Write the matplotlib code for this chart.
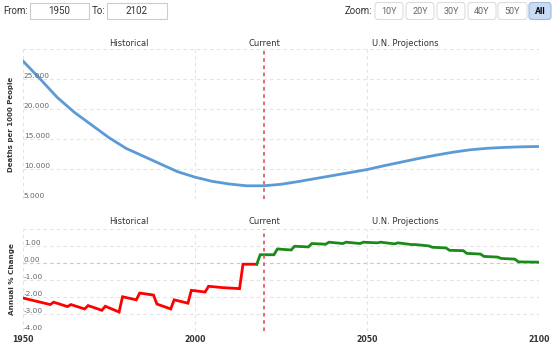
import matplotlib
matplotlib.use("Agg")
import matplotlib.pyplot as plt
from matplotlib.patches import FancyBboxPatch
from matplotlib.transforms import Affine2D, offset_copy

W, H = 553, 347

# death rate, deaths per 1000 people (historical + UN projections)
rate_years = [1950, 1955, 1960, 1965, 1970, 1975, 1980, 1985, 1990, 1995, 2000,
              2005, 2010, 2015, 2020, 2025, 2030, 2035, 2040, 2045, 2050, 2055,
              2060, 2065, 2070, 2075, 2080, 2085, 2090, 2095, 2100]
rate_values = [28.1, 25.1, 22.0, 19.5, 17.4, 15.3, 13.5, 12.2, 10.9, 9.6, 8.7,
               8.0, 7.55, 7.25, 7.25, 7.5, 7.95, 8.45, 8.95, 9.45, 9.95, 10.6,
               11.2, 11.8, 12.35, 12.85, 13.25, 13.5, 13.65, 13.75, 13.8]

# annual % change, historical part
hist_years = [1950, 1958, 1959, 1963, 1964, 1968, 1969, 1973, 1974, 1978, 1979,
              1983, 1984, 1988, 1989, 1993, 1994, 1998, 1999, 2003, 2004, 2008,
              2013, 2014, 2018]
hist_change = [-2.05, -2.44, -2.30, -2.56, -2.44, -2.70, -2.50, -2.78, -2.54,
               -2.88, -1.98, -2.16, -1.76, -1.88, -2.41, -2.70, -2.16, -2.36,
               -1.60, -1.70, -1.36, -1.44, -1.50, -0.06, -0.06]

# annual % change, projected part
proj_years = [2018, 2019, 2023, 2024, 2028, 2029, 2033, 2034, 2038, 2039, 2043,
              2044, 2048, 2049, 2053, 2054, 2058, 2059, 2063, 2064, 2068, 2069,
              2073, 2074, 2078, 2079, 2083, 2084, 2088, 2089, 2093, 2094, 2100]
proj_change = [-0.06, 0.50, 0.50, 0.84, 0.78, 1.00, 0.96, 1.16, 1.12, 1.24, 1.16,
               1.24, 1.16, 1.24, 1.20, 1.24, 1.14, 1.20, 1.10, 1.10, 1.02, 0.94,
               0.90, 0.76, 0.74, 0.58, 0.54, 0.40, 0.36, 0.28, 0.24, 0.08, 0.06]

current_year = 2020
x_ticks = [1950, 2000, 2050, 2100]
rate_ticks = [5, 10, 15, 20, 25, 30]
change_ticks = [-4, -3, -2, -1, 0, 1, 2]
zoom_buttons = ["10Y", "20Y", "30Y", "40Y", "50Y", "All"]

GRID = "#e3e3e3"
LABEL = "#666666"
DARK = "#333333"

fig = plt.figure(figsize=(W / 100, H / 100), dpi=100)
px = Affine2D().scale(1 / W, -1 / H).translate(0, 1) + fig.transFigure


def frac(x0, y0, x1, y1):
    return [x0 / W, 1 - y1 / H, (x1 - x0) / W, (y1 - y0) / H]


ax1 = fig.add_axes(frac(22.7, 49.3, 539, 199.3))
ax2 = fig.add_axes(frac(22.7, 229.3, 539, 331))

ax1.plot(rate_years, rate_values, color="#5b9bd5", lw=2.0, solid_capstyle="round", zorder=3)
ax2.plot(hist_years, hist_change, color="#ff0000", lw=2.0, solid_joinstyle="miter", zorder=3)
ax2.plot(proj_years, proj_change, color="#1b8a1b", lw=2.0, solid_joinstyle="miter", zorder=3)

for ax, ticks, fmt, unlabeled in ((ax1, rate_ticks, "{:.3f}", 30), (ax2, change_ticks, "{:.2f}", 2)):
    ax.set_xlim(1950, 2100)
    ax.set_ylim(min(ticks), max(ticks))
    ax.set_xticks(x_ticks)
    ax.set_yticks(ticks)
    ax.grid(True, color=GRID, ls=(0, (3, 3)), lw=0.8)
    ax.set_axisbelow(True)
    for s in ax.spines.values():
        s.set_visible(False)
    ax.tick_params(length=0, labelleft=False)
    ax.axvline(current_year, color="#e06060", ls=(0, (2, 2)), lw=1.3, zorder=4)
    lab_tr = offset_copy(ax.get_yaxis_transform(), fig=fig, x=1, y=3.0, units="dots")
    for t in ticks:
        if t == unlabeled:
            continue
        ax.text(0, t, fmt.format(t), transform=lab_tr, ha="left", va="center",
                fontsize=5.3, color=LABEL, zorder=5)

ax1.tick_params(labelbottom=False)
ax2.axhline(0, color="#c8c8c8", ls=(0, (3, 3)), lw=0.8, zorder=1)
ax2.tick_params(labelbottom=True, labelsize=5.6, labelcolor=DARK, pad=3)
for lbl in ax2.get_xticklabels():
    lbl.set_fontweight("bold")

# section captions above each panel
for y in (43.5, 222):
    for x, txt in ((129.3, "Historical"), (264, "Current"), (405, "U.N. Projections")):
        fig.text(x, y, txt, transform=px, ha="center", va="center", fontsize=6, color=DARK)

fig.text(11.5, 124.7, "Deaths per 1000 People", transform=px, rotation=90,
         ha="center", va="center", fontsize=5, fontweight="bold", color=DARK)
fig.text(11.7, 279, "Annual % Change", transform=px, rotation=90,
         ha="center", va="center", fontsize=5.2, fontweight="bold", color=DARK)

# range selector header
hdr = dict(transform=px, va="center", fontsize=7, color=DARK, family="Roboto")
fig.text(3, 11, "From:", ha="left", **hdr)
fig.text(92, 11, "To:", ha="left", **hdr)
for (x0, x1), txt in (((30, 89), "1950"), ((107, 167), "2102")):
    fig.add_artist(FancyBboxPatch((x0, 3), x1 - x0, 16, boxstyle="square,pad=0",
                                  fc="white", ec="#cccccc", lw=0.8, transform=px))
    fig.text((x0 + x1) / 2, 11, txt, ha="center", **hdr)

fig.text(372, 11, "Zoom:", ha="right", **hdr)
btn_spans = [(375, 403), (406, 434), (437, 465), (468, 496), (498, 527), (529, 551)]
for (x0, x1), name in zip(btn_spans, zoom_buttons):
    active = name == "All"
    fig.add_artist(FancyBboxPatch((x0, 2.5), x1 - x0, 17, boxstyle="round,pad=0,rounding_size=3",
                                  fc="#c9dcf5" if active else "white",
                                  ec="#9fb9e0" if active else "#dddddd", lw=0.8, transform=px))
    fig.text((x0 + x1) / 2, 11, name, transform=px, ha="center", va="center",
             fontsize=6.5, family="Roboto", color="#000000" if active else "#666666",
             fontweight="bold" if active else "normal")

fig.savefig("out.png", dpi=100)
